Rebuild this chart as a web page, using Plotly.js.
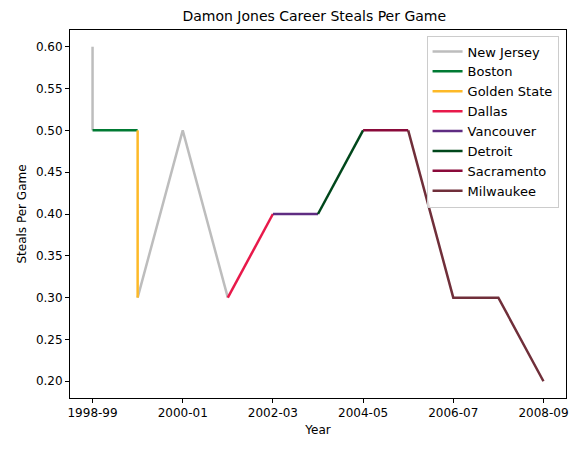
<!DOCTYPE html>
<html>
<head>
<script src="https://cdn.plot.ly/plotly-3.0.1.min.js"></script>
<style>body{margin:0}#chart{width:582px;height:453px}</style>
</head>
<body>
<div id="chart"></div>
<script>
// season index: 0 = 1998-99 ... 10 = 2008-09
const tickVals = [0, 2, 4, 6, 8, 10]
const tickLabels = ['1998-99', '2000-01', '2002-03', '2004-05', '2006-07', '2008-09']

const teams = ['New Jersey', 'Boston', 'Golden State', 'Dallas', 'Vancouver', 'Detroit', 'Sacramento', 'Milwaukee']
const colors = ['#bdbdbd', '#007a33', '#fdb927', '#e8194a', '#5f2c82', '#00471b', '#8a0a3a', '#702f3a']
const teamX = [
  [0, 0, null, 1, 2, 3],
  [0, 1],
  [1, 1],
  [3, 4],
  [4, 5],
  [5, 6],
  [6, 7],
  [7, 8, 9, 10]
]
const teamY = [
  [0.6, 0.5, null, 0.3, 0.5, 0.3],
  [0.5, 0.5],
  [0.5, 0.3],
  [0.3, 0.4],
  [0.4, 0.4],
  [0.4, 0.5],
  [0.5, 0.5],
  [0.5, 0.3, 0.3, 0.2]
]

const data = teams.map((t, i) => ({
  x: teamX[i], y: teamY[i], name: t, mode: 'lines',
  line: {color: colors[i], width: 2.5}
}))

const axisBase = {
  showgrid: false, zeroline: false, showline: true, mirror: true,
  linecolor: 'black', linewidth: 1, ticks: 'outside', ticklen: 4,
  tickcolor: 'black', tickfont: {size: 12, color: 'black'}
}

const layout = {
  width: 582, height: 453,
  margin: {l: 70, r: 16, t: 30, b: 55},
  paper_bgcolor: 'white', plot_bgcolor: 'white',
  font: {family: 'DejaVu Sans', color: 'black'},
  title: {text: 'Damon Jones Career Steals Per Game', font: {size: 14}, x: 0.54, y: 0.975},
  xaxis: Object.assign({}, axisBase, {
    range: [-0.5, 10.5], tickvals: tickVals, ticktext: tickLabels,
    title: {text: 'Year', font: {size: 12}, standoff: 6}
  }),
  yaxis: Object.assign({}, axisBase, {
    range: [0.18, 0.62], dtick: 0.05, tickformat: '.2f',
    title: {text: 'Steals Per Game', font: {size: 12}, standoff: 6}
  }),
  legend: {
    x: 0.985, y: 0.985, xanchor: 'right', yanchor: 'top',
    bgcolor: 'rgba(255,255,255,0.8)', bordercolor: '#cccccc', borderwidth: 1,
    font: {size: 13}, tracegroupgap: 0
  },
  showlegend: true
}

Plotly.newPlot('chart', data, layout, {displayModeBar: false})
</script>
</body>
</html>
